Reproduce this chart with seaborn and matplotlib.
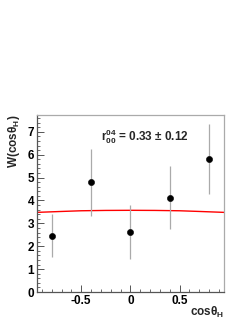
import numpy as np
import matplotlib
matplotlib.use("Agg")
import matplotlib.pyplot as plt
import seaborn as sns
from matplotlib.ticker import MultipleLocator

## Data
cos_theta = [-0.8, -0.4, 0.0, 0.4, 0.8]
w_values = [2.45, 4.82, 2.63, 4.12, 5.81]
w_err_up = [0.96, 1.45, 1.17, 1.38, 1.53]
w_err_down = [0.92, 1.49, 1.20, 1.37, 1.54]

fit_x = [-0.95, -0.7, -0.5, -0.25, 0.0, 0.25, 0.5, 0.7, 0.95]
fit_y = [3.48, 3.52, 3.55, 3.565, 3.57, 3.565, 3.55, 3.52, 3.48]

sns.set_style("ticks")
plt.rcParams['font.family'] = ['Liberation Sans', 'DejaVu Sans']
plt.rcParams['font.weight'] = 'bold'
plt.rcParams['mathtext.fontset'] = 'custom'
plt.rcParams['mathtext.rm'] = 'Liberation Sans:bold'
plt.rcParams['mathtext.bf'] = 'Liberation Sans:bold'
plt.rcParams['mathtext.it'] = 'Liberation Sans:bold'

fig = plt.figure(figsize=(2.53, 3.27), dpi=100)
ax = fig.add_axes([0.146, 0.107, 0.739, 0.541])

sns.lineplot(x=fit_x, y=fit_y, color='red', linewidth=1.0, ax=ax)
ax.errorbar(cos_theta, w_values, yerr=[w_err_down, w_err_up], fmt='none',
            ecolor='#aaaaaa', elinewidth=0.9, capsize=0)
sns.scatterplot(x=cos_theta, y=w_values, color='black', s=20, edgecolor='black',
                zorder=5, ax=ax)

ax.set_xlim(-0.95, 0.95)
ax.set_ylim(0, 7.73)
ax.xaxis.set_major_locator(MultipleLocator(0.5))
ax.xaxis.set_minor_locator(MultipleLocator(0.1))
ax.yaxis.set_major_locator(MultipleLocator(1))
ax.yaxis.set_minor_locator(MultipleLocator(0.2))
ax.set_xticks([-0.5, 0, 0.5])
ax.set_xticklabels(['-0.5', '0', '0.5'])
ax.tick_params(which='both', direction='in', top=False, right=False,
               colors='#555555', labelcolor='black', labelsize=8.5, pad=2)
ax.tick_params(which='major', length=5, width=0.7)
ax.tick_params(which='minor', length=2.5, width=0.6)
for s in ax.spines.values():
    s.set_color('#aaaaaa')
    s.set_linewidth(0.9)
ax.spines['left'].set_color('#555555')
ax.spines['bottom'].set_color('#555555')

ax.text(0.34, 0.88, r'r$^{04}_{00}$ = 0.33 $\pm$ 0.12', transform=ax.transAxes,
        fontsize=8.5, fontweight='bold', ha='left', va='center')

fig.text(0.055, 0.648, r'W(cosθ$_{H}$)', rotation=90, ha='center', va='top',
         fontsize=8.5, fontweight='bold')
fig.text(0.885, 0.045, r'cosθ$_{H}$', ha='right', va='center',
         fontsize=8.5, fontweight='bold')

fig.savefig('out.png', dpi=100)
